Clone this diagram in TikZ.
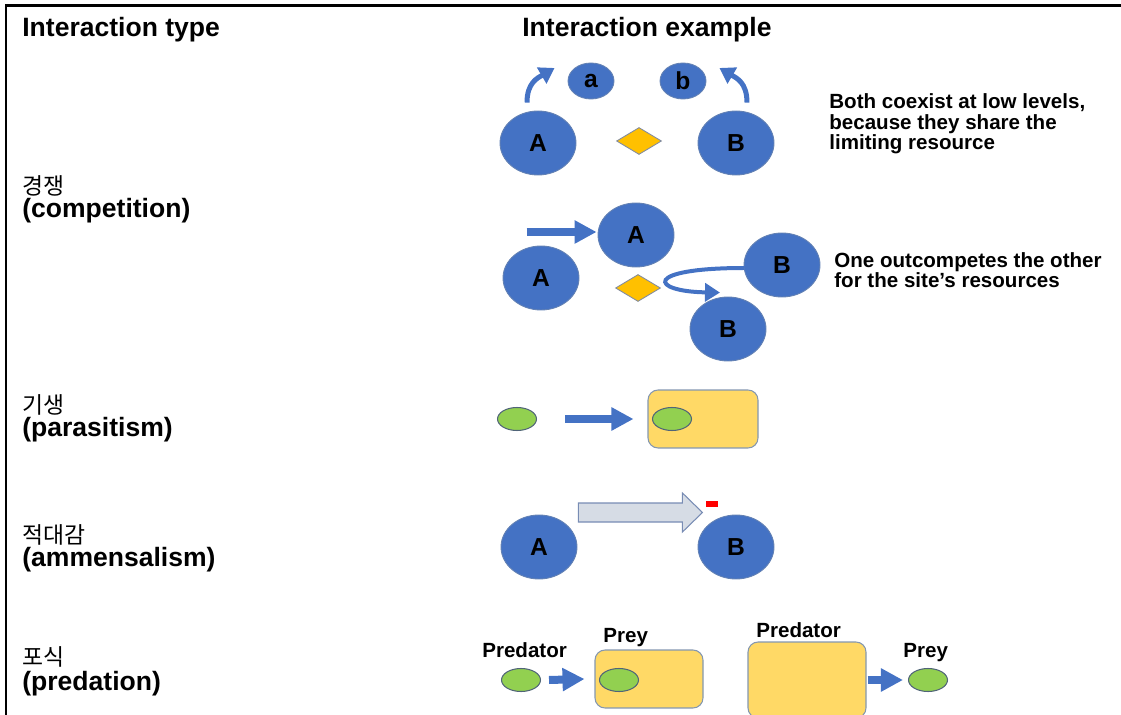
\documentclass[tikz,border=0pt]{standalone}
\usepackage{fontspec}
\setmainfont{Liberation Sans}
\newfontfamily\kor{Noto Sans CJK KR}
\usetikzlibrary{arrows.meta,shapes.geometric,calc}

\begin{document}
\begin{tikzpicture}[x=0.02cm,y=-0.02cm,
	org/.style={ellipse,fill=orgblue,draw=orgedge,line width=0.5pt,minimum width=1.52cm,minimum height=1.28cm,inner sep=0pt,font=\fontsize{14}{14}\selectfont\bfseries},
	kid/.style={org,minimum width=0.92cm,minimum height=0.72cm},
	res/.style={diamond,fill=resorange,draw=resedge,line width=0.5pt,minimum width=0.9cm,minimum height=0.54cm,inner sep=0pt},
	microbe/.style={ellipse,fill=microgreen,draw=microedge,line width=0.6pt,minimum width=0.78cm,minimum height=0.46cm,inner sep=0pt},
	host/.style={rectangle,rounded corners=0.2cm,fill=hostyellow,draw=hostedge,line width=0.6pt,inner sep=0pt},
	fat/.style={draw=arrowblue,line width=0.16cm,-{Triangle[width=0.44cm,length=0.44cm]}},
	curvy/.style={draw=arrowblue,line width=0.1cm,-{Triangle[width=0.36cm,length=0.3cm]}},
	kopf/.style={anchor=base west,inner sep=0pt,font=\fontsize{15.1}{17}\selectfont\bfseries},
	typkor/.style={anchor=base west,inner sep=0pt,font=\kor\fontsize{13}{15}\selectfont},
	notiz/.style={anchor=base west,inner sep=0pt,align=left,font=\fontsize{11.7}{11.8}\selectfont\bfseries}]
	% Farben
	\definecolor{orgblue}{RGB}{68,114,196}
	\definecolor{orgedge}{RGB}{100,130,180}
	\definecolor{arrowblue}{RGB}{68,114,196}
	\definecolor{resorange}{RGB}{255,192,0}
	\definecolor{resedge}{RGB}{130,140,160}
	\definecolor{microgreen}{RGB}{146,208,80}
	\definecolor{microedge}{RGB}{80,100,120}
	\definecolor{hostyellow}{RGB}{255,217,102}
	\definecolor{hostedge}{RGB}{132,151,176}
	\definecolor{hohlfill}{RGB}{214,220,229}
	\definecolor{hohledge}{RGB}{120,140,180}
	\definecolor{minusred}{RGB}{255,0,0}
	
	\useasboundingbox (0,0) rectangle (1121,715);
	
	% Rahmen (oben + links)
	\draw[line width=0.044cm] (6,715) -- (6,5.5) -- (1121,5.5);
	
	% Überschriften
	\node[kopf] (typ) at (22,37) {Interaction type};
	\node[kopf] (bsp) at (522,37) {Interaction example};
	
	% Typen links
	\node[typkor] (k1) at (22,195) {경쟁};
	\node[kopf] (t1) at (22,218) {(competition)};
	\node[typkor] (k2) at (22,414) {기생};
	\node[kopf] (t2) at (22,437) {(parasitism)};
	\node[typkor] (k3) at (22,543) {적대감};
	\node[kopf] (t3) at (22,566) {(ammensalism)};
	\node[typkor] (k4) at (22,665) {포식};
	\node[kopf] (t4) at (22,690) {(predation)};
	
	% Konkurrenz: Koexistenz
	\node[org] (A1) at (538,143) {A};
	\node[org] (B1) at (736,143) {B};
	\node[kid] (a) at (591,81) {a};
	\node[kid] (b) at (683,81) {b};
	\node[res] (R1) at (639,141) {};
	\draw[curvy] ($(A1.north)+(-11,-8)$) .. controls +(0,-20) and +(-17,10) .. ($(a.west)+(-13,-13)$);
	\draw[curvy] ($(B1.north)+(11,-8)$) .. controls +(0,-20) and +(17,10) .. ($(b.east)+(13,-13)$);
	\node[notiz] (n1) at (829,150) {Both coexist at low levels,\\because they share the\\limiting resource};
	
	% Konkurrenz: Verdrängung
	\node[org] (A2) at (541,278) {A};
	\node[org] (A3) at (636,235) {A};
	\node[org] (B2) at (782,265) {B};
	\node[org] (B3) at (728,329) {B};
	\node[res] (R2) at (638,288) {};
	\draw[fat] ($(A3.west)+(-71,-3)$) -- ($(A3.west)+(-1,-3)$);
	\draw[curvy,line width=0.08cm] ($(B2.west)+(1,3)$) .. controls +(-103,0) and +(-70,-1) .. ($(B3.north)+(-8,-4)$);
	\node[notiz] (n2) at (834,288) {One outcompetes the other\\for the site’s resources};
	
	% Parasitismus
	\node[microbe] (P1) at (517,419) {};
	\node[host,minimum width=2.2cm,minimum height=1.16cm] (wirt) at (703,419) {};
	\node[microbe] (P2) at (672,419) {};
	\draw[fat] ($(P1.east)+(28,0)$) -- ($(wirt.west)+(-14,0)$);
	
	% Amensalismus
	\node[org] (A4) at (539,547) {A};
	\node[org] (B4) at (736,547) {B};
	\draw[fill=hohlfill,draw=hohledge,line width=0.6pt] ($(A4.east)+(1,-44)$) -- ++(104,0) -- ++(0,-10) -- ++(20,19.5) -- ++(-20,19.5) -- ++(0,-10) -- ++(-104,0) -- cycle;
	\node[fill=minusred,minimum width=0.24cm,minimum height=0.12cm,inner sep=0pt] (minus) at (712,504) {};
	
	% Räuber-Beute
	\node[notiz] (pd1) at (482,657) {Predator};
	\node[microbe] (Pd1) at (521,680) {};
	\node[host,minimum width=2.16cm,minimum height=1.16cm] (beute) at (649,679) {};
	\node[microbe] (Py1) at (619,680) {};
	\node[notiz] (py1) at (603,642) {Prey};
	\draw[fat] ($(Pd1.east)+(8,0)$) -- ($(beute.west)+(-10,0)$);
	
	\node[host,minimum width=2.36cm,minimum height=1.52cm] (raeuber) at (807,680) {};
	\node[notiz] (pd2) at (756,637) {Predator};
	\node[microbe] (Py2) at (928,680) {};
	\node[notiz] (py2) at (903,657) {Prey};
	\draw[fat] ($(raeuber.east)+(1,0)$) -- ($(Py2.west)+(-5,0)$);
\end{tikzpicture}
\end{document}
